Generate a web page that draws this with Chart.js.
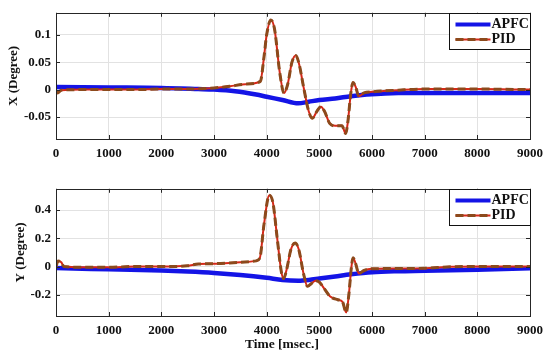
<!DOCTYPE html>
<html>
<head>
<meta charset="utf-8">
<script src="https://cdn.jsdelivr.net/npm/chart.js@4.4.1/dist/chart.umd.min.js"></script>
<style>
  body { margin: 0; background: #fff; }
  #wrap { position: relative; width: 550px; height: 357px; overflow: hidden; }
  .plot { position: absolute; left: 0; width: 550px; }
  #xTitle {
    position: absolute; left: 245px; top: 336px;
    font: bold 13.5px 'Liberation Serif', 'Times New Roman', serif; color: #111;
  }
</style>
</head>
<body>
<div id="wrap">
  <div class="plot" style="top:0; height:170px;"><canvas id="xChart"></canvas></div>
  <div class="plot" style="top:176px; height:181px;"><canvas id="yChart"></canvas></div>
  <div id="xTitle">Time [msec.]</div>
</div>
<script>
// ===== DATA =====
const xTicks = [0, 1000, 2000, 3000, 4000, 5000, 6000, 7000, 8000, 9000];

// X axis response
const apfcXTime = [0, 1000, 2000, 2700, 3000, 3400, 3800, 4000, 4300, 4600, 4800, 5000, 5300, 5600, 5900, 6500, 7000, 8000, 9000];
const apfcXDeg  = [0.005, 0.004, 0.003, 0.001, 0.000, -0.003, -0.009, -0.013, -0.019, -0.025, -0.022, -0.019, -0.016, -0.012, -0.009, -0.006, -0.006, -0.006, -0.006];
const pidXTime = [0, 30, 100, 500, 1000, 1500, 2000, 2500, 3000, 3300, 3600, 3880, 3950, 4000, 4080, 4150, 4250, 4330, 4400, 4480, 4554, 4620, 4700, 4800, 4870, 4950, 5030, 5100, 5200, 5300, 5430, 5500, 5540, 5600, 5640, 5690, 5750, 5850, 6000, 6500, 7000, 8000, 9000];
const pidXDeg  = [-0.003, -0.006, -0.001, 0, 0, 0, 0.001, 0.001, 0.003, 0.006, 0.010, 0.015, 0.06, 0.10, 0.127, 0.11, 0.03, -0.006, 0.01, 0.05, 0.062, 0.045, 0.005, -0.04, -0.052, -0.04, -0.031, -0.04, -0.062, -0.066, -0.066, -0.08, -0.06, -0.005, 0.013, 0.005, -0.012, -0.006, -0.004, -0.001, 0.001, 0.001, 0.000];
const xDegTicks  = [-0.05, 0, 0.05, 0.1];
const xDegLabels = ['-0.05', '0', '0.05', '0.1'];

// Y axis response
const apfcYTime = [0, 500, 1000, 2000, 2500, 3000, 3500, 4000, 4300, 4600, 4800, 5000, 5300, 5600, 6000, 6500, 7000, 8000, 9000];
const apfcYDeg  = [-0.01, -0.015, -0.02, -0.028, -0.035, -0.045, -0.06, -0.08, -0.095, -0.1, -0.095, -0.085, -0.07, -0.055, -0.04, -0.033, -0.03, -0.022, -0.012];
const pidYTime = [0, 40, 100, 150, 500, 1000, 1500, 2000, 2500, 2700, 3000, 3500, 3800, 3870, 3950, 4050, 4120, 4200, 4280, 4320, 4380, 4460, 4540, 4610, 4700, 4775, 4850, 4930, 5000, 5100, 5200, 5350, 5440, 5510, 5560, 5610, 5640, 5690, 5750, 5850, 6000, 6500, 7000, 7500, 8000, 9000];
const pidYDeg  = [0.0, 0.04, 0.03, 0.0, -0.005, -0.005, 0, 0, 0.005, 0.018, 0.02, 0.03, 0.04, 0.06, 0.3, 0.505, 0.45, 0.2, -0.04, -0.085, -0.02, 0.12, 0.167, 0.12, -0.05, -0.14, -0.12, -0.1, -0.11, -0.16, -0.21, -0.235, -0.25, -0.325, -0.2, 0.0, 0.062, 0.02, -0.05, -0.028, -0.016, -0.014, -0.012, -0.002, 0.0, 0.0];
const yDegTicks  = [-0.2, 0, 0.2, 0.4];
const yDegLabels = ['-0.2', '0', '0.2', '0.4'];

const seriesNames = ['APFC', 'PID'];
const FONT = "'Liberation Serif', 'Times New Roman', serif";

function toPoints(t, v) {
    return t.map((x, i) => ({ x: x, y: v[i] }));
}

// box frame, inward tick marks and the legend drawn inside the axes
const framePlugin = {
    id: 'frame',
    afterDraw(chart) {
        const { ctx, chartArea: a, scales } = chart;
        ctx.save();
        ctx.strokeStyle = '#262626';
        ctx.lineWidth = 1;
        ctx.strokeRect(Math.round(a.left) + 0.5, Math.round(a.top) + 0.5,
                       Math.round(a.right - a.left), Math.round(a.bottom - a.top));
        ctx.beginPath();
        scales.x.ticks.forEach(t => {
            const px = Math.round(scales.x.getPixelForValue(t.value)) + 0.5;
            ctx.moveTo(px, a.top); ctx.lineTo(px, a.top + 4);
            ctx.moveTo(px, a.bottom); ctx.lineTo(px, a.bottom - 4);
        });
        scales.y.ticks.forEach(t => {
            const py = Math.round(scales.y.getPixelForValue(t.value)) + 0.5;
            ctx.moveTo(a.left, py); ctx.lineTo(a.left + 4, py);
            ctx.moveTo(a.right, py); ctx.lineTo(a.right - 4, py);
        });
        ctx.stroke();

        // legend
        const w = 81, h = 36;
        const bx = Math.round(a.right) - w + 0.5, by = Math.round(a.top) + 0.5;
        ctx.fillStyle = '#fff';
        ctx.fillRect(bx, by, w, h);
        ctx.strokeStyle = '#111';
        ctx.strokeRect(bx, by, w, h);
        ctx.font = 'bold 14px ' + FONT;
        ctx.fillStyle = '#111';
        ctx.textBaseline = 'middle';
        // APFC
        ctx.strokeStyle = '#1414e6'; ctx.lineWidth = 4; ctx.setLineDash([]);
        ctx.beginPath(); ctx.moveTo(bx + 6, by + 11); ctx.lineTo(bx + 41, by + 11); ctx.stroke();
        ctx.fillText(seriesNames[0], bx + 42, by + 11);
        // PID
        ctx.strokeStyle = '#d62818'; ctx.lineWidth = 2;
        ctx.beginPath(); ctx.moveTo(bx + 6, by + 26); ctx.lineTo(bx + 41, by + 26); ctx.stroke();
        ctx.strokeStyle = '#8c4a1c'; ctx.lineWidth = 3; ctx.setLineDash([8, 4]);
        ctx.beginPath(); ctx.moveTo(bx + 6, by + 26); ctx.lineTo(bx + 41, by + 26); ctx.stroke();
        ctx.setLineDash([]);
        ctx.fillText(seriesNames[1], bx + 42, by + 26);
        ctx.restore();
    }
};

function makeChart(id, apfcT, apfcV, pidT, pidV, yMin, yMax, yTicks, yLabels, yTitle, titlePad, xHeight) {
    return new Chart(document.getElementById(id), {
        type: 'line',
        data: {
            datasets: [{
                label: seriesNames[1],
                data: toPoints(pidT, pidV),
                borderColor: '#8c4a1c',
                borderWidth: 3,
                borderDash: [8, 4],
                pointRadius: 0,
                cubicInterpolationMode: 'monotone'
            }, {
                label: seriesNames[1] + ' line',
                data: toPoints(pidT, pidV),
                borderColor: '#d62818',
                borderWidth: 2,
                pointRadius: 0,
                cubicInterpolationMode: 'monotone'
            }, {
                label: seriesNames[0],
                data: toPoints(apfcT, apfcV),
                borderColor: '#1414e6',
                borderWidth: 4.5,
                pointRadius: 0,
                cubicInterpolationMode: 'monotone'
            }]
        },
        options: {
            responsive: true,
            maintainAspectRatio: false,
            animation: false,
            layout: { padding: { top: 12, right: 18, left: 0, bottom: 0 } },
            plugins: { legend: { display: false }, tooltip: { enabled: false } },
            scales: {
                x: {
                    type: 'linear',
                    min: 0,
                    max: 9000,
                    afterBuildTicks: s => { s.ticks = xTicks.map(v => ({ value: v })); },
                    afterFit: s => { s.height = xHeight; },
                    grid: { color: '#e2e2e2', drawTicks: false },
                    border: { display: false },
                    ticks: {
                        color: '#111', padding: 7, maxRotation: 0,
                        font: { family: FONT, size: 13, weight: 'bold' },
                        callback: v => String(v)
                    }
                },
                y: {
                    min: yMin,
                    max: yMax,
                    afterBuildTicks: s => { s.ticks = yTicks.map(v => ({ value: v })); },
                    afterFit: s => { s.width = 56; },
                    grid: { color: '#e2e2e2', drawTicks: false },
                    border: { display: false },
                    ticks: {
                        color: '#111', padding: 5,
                        font: { family: FONT, size: 13, weight: 'bold' },
                        callback: v => yLabels[yTicks.indexOf(v)]
                    },
                    title: {
                        display: true, text: yTitle, color: '#111',
                        padding: { top: titlePad, bottom: 0 },
                        font: { family: FONT, size: 13, weight: 'bold' }
                    }
                }
            }
        },
        plugins: [framePlugin]
    });
}

document.addEventListener('DOMContentLoaded', function() {
    makeChart('xChart', apfcXTime, apfcXDeg, pidXTime, pidXDeg, -0.09, 0.14,
              xDegTicks, xDegLabels, 'X (Degree)', 6, 31);
    makeChart('yChart', apfcYTime, apfcYDeg, pidYTime, pidYDeg, -0.35, 0.55,
              yDegTicks, yDegLabels, 'Y (Degree)', 13, 41);
});
</script>
</body>
</html>
